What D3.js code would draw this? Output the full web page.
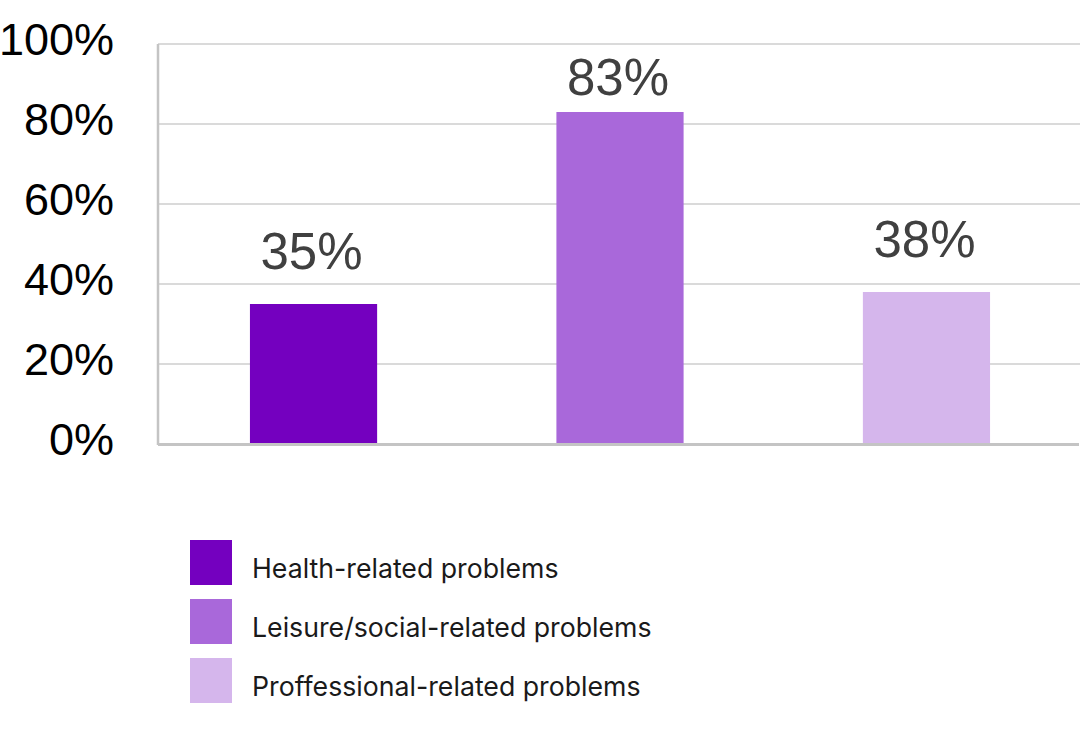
<!DOCTYPE html>
<html>
<head>
<meta charset="utf-8">
<script src="https://cdn.jsdelivr.net/npm/d3@7"></script>
<style>
  html, body { margin: 0; padding: 0; background: #ffffff; }
  svg { display: block; }
</style>
</head>
<body>
<svg id="chart" width="1080" height="729"></svg>
<script>
const categories = ["Health-related problems", "Leisure/social-related problems", "Proffessional-related problems"];
const values = [35, 83, 38];
const colors = ["#7400bf", "#a968da", "#d5b6ec"];
const yTicks = [0, 20, 40, 60, 80, 100];

(function () {
const svg = d3.select("#chart");
const plotL = 158, plotR = 1080, plotT = 44, plotB = 444;

const x = d3.scaleBand().domain(categories).range([plotL, 1082]).paddingInner(0.585).paddingOuter(0.3);
const y = d3.scaleLinear().domain([0, 100]).range([plotB, plotT]);

// gridlines
svg.append("g").selectAll("line").data(yTicks.filter(d => d > 0)).join("line")
  .attr("x1", plotL).attr("x2", plotR)
  .attr("y1", d => y(d)).attr("y2", d => y(d))
  .attr("stroke", "#dadada").attr("stroke-width", 2);

// y axis labels
const yAxis = d3.axisLeft(y).tickValues(yTicks).tickFormat(d => d + "%").tickSize(0).tickPadding(0);
const yg = svg.append("g").attr("transform", "translate(114,-4)").call(yAxis);
yg.select(".domain").remove();
yg.selectAll("text")
  .attr("font-family", "Liberation Sans, Arial, sans-serif")
  .attr("font-size", 45).attr("fill", "#000");

// bars
svg.append("g").selectAll("rect").data(values).join("rect")
  .attr("x", (d, i) => x(categories[i]))
  .attr("width", x.bandwidth())
  .attr("y", d => y(d))
  .attr("height", d => y(0) - y(d))
  .attr("fill", (d, i) => colors[i]);

// axis lines
svg.append("line").attr("x1", plotL).attr("x2", plotL).attr("y1", plotT).attr("y2", plotB + 1)
  .attr("stroke", "#c4c4c4").attr("stroke-width", 2.5);
svg.append("line").attr("x1", plotL).attr("x2", 1079).attr("y1", plotB + 0.5).attr("y2", plotB + 0.5)
  .attr("stroke", "#c4c4c4").attr("stroke-width", 3);

// value labels
svg.append("g").selectAll("text").data(values).join("text")
  .attr("x", (d, i) => x(categories[i]) + x.bandwidth() / 2 - 2)
  .attr("y", d => Math.max(y(d) - 35, 95))
  .attr("text-anchor", "middle")
  .attr("font-family", "Liberation Sans, Arial, sans-serif")
  .attr("font-size", 51).attr("fill", "#404040")
  .text(d => d + "%");

// legend
const lg = svg.append("g").selectAll("g").data(categories).join("g")
  .attr("transform", (d, i) => `translate(190, ${540 + i * 59})`);
lg.append("rect").attr("width", 42).attr("height", 45).attr("fill", (d, i) => colors[i]);
lg.append("text").attr("x", 62).attr("y", 38)
  .attr("font-family", "Inter, Lato, sans-serif")
  .attr("font-size", 26.7).attr("fill", "#1a1a1a")
  .text(d => d);
})();
</script>
</body>
</html>
